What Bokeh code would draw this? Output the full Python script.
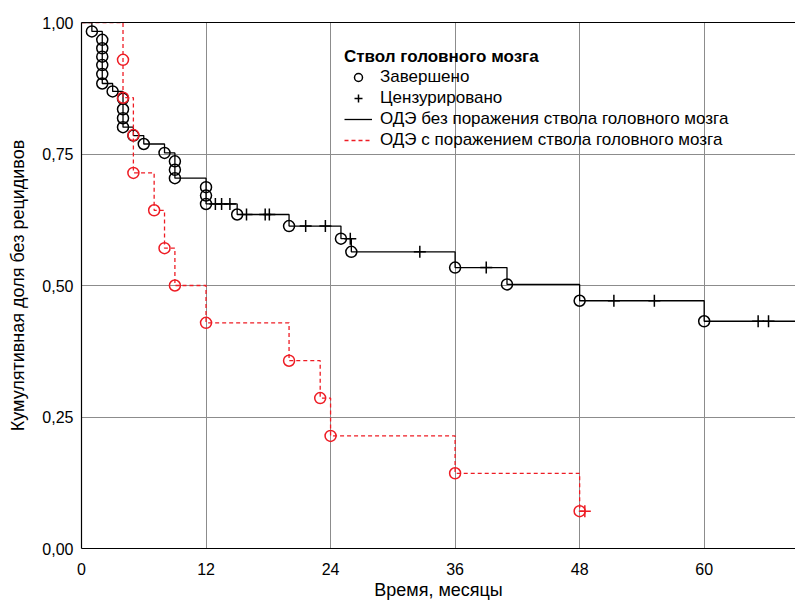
from bokeh.plotting import figure
from bokeh.models import Range1d, FixedTicker, LinearAxis, Legend, LegendItem
from bokeh.embed import file_html
from bokeh.resources import INLINE

FONT = "Liberation Sans"

# --- data: group without brainstem involvement (black) ---
black_event_t = [1, 2, 2, 2, 2, 2, 2, 3, 4, 4, 4, 4, 5, 6, 8, 9, 9, 9,
                 12, 12, 12, 15, 20, 25, 26, 36, 41, 48, 60]
black_event_s = [0.983, 0.967, 0.951, 0.935, 0.919, 0.902, 0.884, 0.869,
                 0.855, 0.835, 0.818, 0.801, 0.785, 0.769, 0.752,
                 0.736, 0.720, 0.704, 0.687, 0.671, 0.655, 0.635, 0.613,
                 0.589, 0.564, 0.534, 0.502, 0.471, 0.432]
black_censor_t = [12.9, 13.5, 14.3, 15.9, 17.7, 18.1, 21.6, 23.5, 25.9,
                  32.6, 39.0, 51.3, 55.2, 65.2, 66.2]
black_last_t = 72

# --- data: group with brainstem involvement (red) ---
red_event_t = [4, 4, 5, 5, 7, 8, 9, 12, 20, 23, 24, 36, 48]
red_event_s = [0.929, 0.857, 0.786, 0.714, 0.643, 0.571, 0.500, 0.429,
               0.357, 0.286, 0.214, 0.143, 0.071]
red_censor_t = [48.5]
red_last_t = 48.5

x_ticks = [0, 12, 24, 36, 48, 60, 72]
y_ticks = [0.0, 0.25, 0.5, 0.75, 1.0]
y_tick_labels = ["0,00", "0,25", "0,50", "0,75", "1,00"]

legend_title = "Ствол головного мозга"
lbl_event = "Завершено"
lbl_censor = "Цензурировано"
lbl_black = "ОДЭ без поражения ствола головного мозга"
lbl_red = "ОДЭ с поражением ствола головного мозга"
x_label = "Время, месяцы"
y_label = "Кумулятивная доля без рецидивов"

RED = "#ee1c24"


def step_xy(ev_t, ev_s, end_t):
    xs = [0.0] + list(ev_t) + [end_t]
    ys = [1.0] + list(ev_s) + [ev_s[-1]]
    return xs, ys


def surv_at(t, ev_t, ev_s):
    s = 1.0
    for et, es in zip(ev_t, ev_s):
        if et <= t:
            s = es
    return s


p = figure(width=795, height=604, output_backend="svg", toolbar_location=None,
           x_range=Range1d(0, 68.8), y_range=Range1d(0, 1.0),
           min_border_left=81, min_border_right=0, min_border_top=22,
           min_border_bottom=56)
p.outline_line_color = None
p.background_fill_color = "white"
p.border_fill_color = "white"

# grid
p.xgrid.ticker = FixedTicker(ticks=x_ticks)
p.ygrid.ticker = FixedTicker(ticks=y_ticks)
for g in (p.xgrid, p.ygrid):
    g.grid_line_color = "#8c8c8c"
    g.grid_line_width = 1

# axes
p.xaxis.ticker = FixedTicker(ticks=x_ticks)
p.yaxis.ticker = FixedTicker(ticks=y_ticks)
p.yaxis.major_label_overrides = {t: l for t, l in zip(y_ticks, y_tick_labels)}
for ax in (p.xaxis, p.yaxis):
    ax.axis_line_color = "black"
    ax.axis_line_width = 1.2
    ax.major_tick_in = 0
    ax.major_tick_out = 0
    ax.minor_tick_line_color = None
    ax.major_label_text_font = FONT
    ax.major_label_text_font_size = "16px"
    ax.major_label_text_color = "black"
    ax.axis_label_text_font = FONT
    ax.axis_label_text_font_size = "18px"
    ax.axis_label_text_font_style = "normal"
    ax.axis_label_text_color = "black"
p.xaxis.axis_label = x_label
p.yaxis.axis_label = y_label
p.xaxis.major_label_standoff = 14
p.xaxis.axis_label_standoff = 2
p.yaxis.major_label_standoff = 8
p.yaxis.axis_label_standoff = 11

top_axis = LinearAxis(ticker=FixedTicker(ticks=[]), axis_line_color="black",
                      axis_line_width=1.2, major_tick_in=0, major_tick_out=0,
                      minor_tick_line_color=None, major_label_text_font_size="0px")
p.add_layout(top_axis, "above")

# black group
bx, by = step_xy(black_event_t, black_event_s, black_last_t)
black_line = p.step(bx, by, mode="after", line_color="black", line_width=1.3)
black_circ = p.scatter(black_event_t, black_event_s, marker="circle", size=11,
                       fill_alpha=0, line_color="black", line_width=1.5)
bcy = [surv_at(t, black_event_t, black_event_s) for t in black_censor_t]
black_cens = p.scatter(black_censor_t, bcy, marker="cross", size=12,
                       line_color="black", line_width=1.5)

# red group
rx, ry = step_xy(red_event_t, red_event_s, red_last_t)
red_line = p.step(rx, ry, mode="after", line_color=RED, line_width=1.3,
                  line_dash="4 3")
red_circ = p.scatter(red_event_t, red_event_s, marker="circle", size=11,
                     fill_alpha=0, line_color=RED, line_width=1.5)
rcy = [surv_at(t, red_event_t, red_event_s) for t in red_censor_t]
red_cens = p.scatter(red_censor_t, rcy, marker="cross", size=12,
                     line_color=RED, line_width=1.5)

legend = Legend(items=[
    LegendItem(label=lbl_event, renderers=[black_circ]),
    LegendItem(label=lbl_censor, renderers=[black_cens]),
    LegendItem(label=lbl_black, renderers=[black_line]),
    LegendItem(label=lbl_red, renderers=[red_line]),
], location=(263, 398))
legend.title = legend_title
legend.title_text_font = FONT
legend.title_text_font_size = "17px"
legend.title_text_font_style = "bold"
legend.title_text_color = "black"
legend.title_standoff = 0
legend.label_text_font = FONT
legend.label_text_font_size = "17px"
legend.label_text_color = "black"
legend.label_height = 20
legend.glyph_height = 20
legend.glyph_width = 28
legend.label_standoff = 8
legend.spacing = 1
legend.padding = 0
legend.margin = 0
legend.background_fill_alpha = 0
legend.border_line_alpha = 0
p.add_layout(legend)

open("out.html", "w").write(file_html(p, INLINE))
